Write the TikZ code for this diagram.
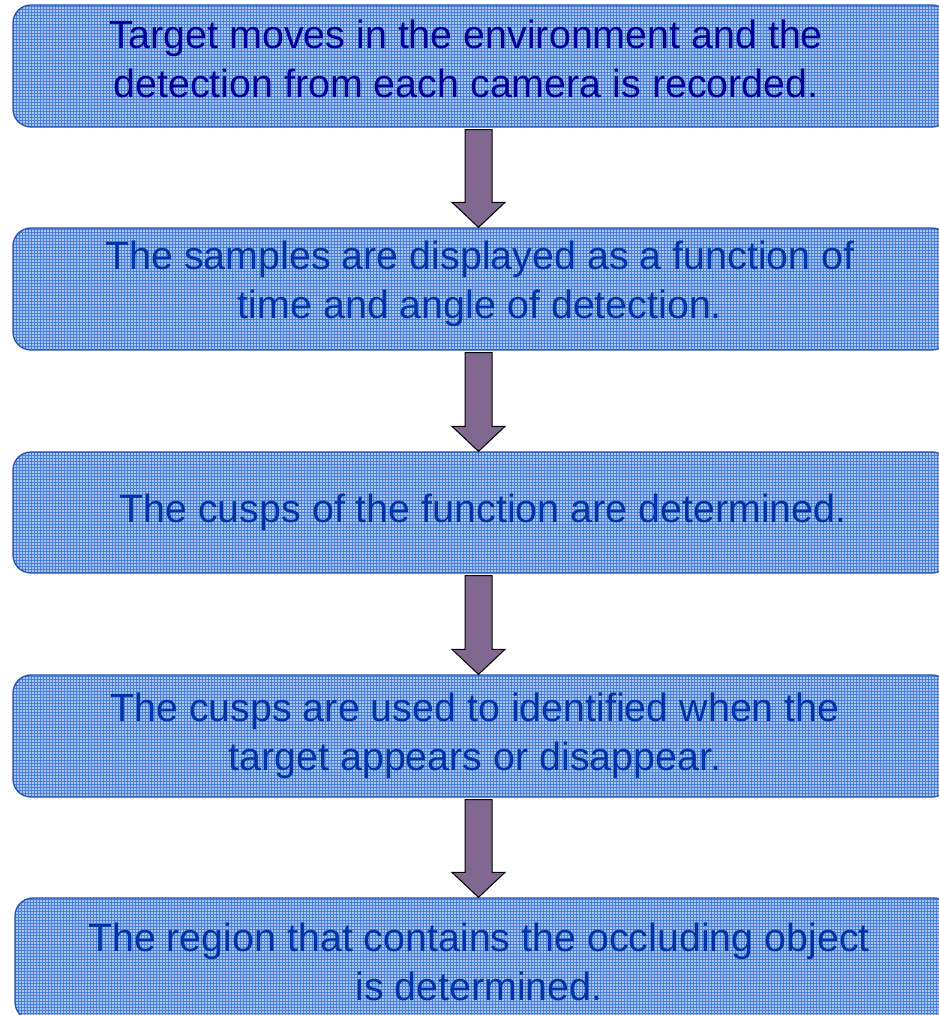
\documentclass[tikz,border=0pt]{standalone}
\usepackage{fontspec}
\setmainfont{Liberation Sans}
\usetikzlibrary{calc}
\definecolor{boxfill}{HTML}{A9C5EE}
\definecolor{gridcol}{HTML}{4A80D8}
\definecolor{boxline}{HTML}{2352B0}
\definecolor{navytext}{HTML}{000096}
\definecolor{bluetext}{HTML}{0034A6}
\definecolor{arrowfill}{HTML}{806890}
\tikzset{
  flowbox/.style={draw=boxline, line width=1.3pt, fill=boxfill, rounded corners=18pt,
    minimum width=937pt, inner sep=0pt,
    path picture={\draw[gridcol, line width=0.8pt] (path picture bounding box.south west) grid[step=3pt] (path picture bounding box.north east);}},
  flowtext/.style={anchor=base, align=center, inner sep=0pt, font=\fontsize{39.4}{48.5}\selectfont},
  blockarrow/.style={draw=black, line width=1pt, fill=arrowfill, line join=miter}
}
\newcommand\flowarrow[2]{%
  \draw[blockarrow] ($(#1)+(-13.5,0)$) -- ($(#1)+(13.5,0)$) -- ($(#2)+(13.5,-25)$) -- ($(#2)+(26.5,-25)$) -- (#2) -- ($(#2)+(-26.5,-25)$) -- ($(#2)+(-13.5,-25)$) -- cycle;}
\begin{document}
\begin{tikzpicture}[x=1pt,y=-1pt]
\useasboundingbox (0,0) rectangle (938,1015);
\node[flowbox, minimum height=122pt] (b1) at (481.5,66) {};
\node[flowbox, minimum height=122pt] (b2) at (481.5,289) {};
\node[flowbox, minimum height=121pt] (b3) at (481.5,512.5) {};
\node[flowbox, minimum height=122pt] (b4) at (481.5,736) {};
\node[flowbox, minimum height=122pt] (b5) at (483.5,959) {};
\node[flowtext, text=navytext] (t1) at (466,97) {Target moves in the environment and the\\detection from each camera is recorded.};
\node[flowtext, text=bluetext] (t2) at (480,318) {The samples are displayed as a function of\\time and angle of detection.};
\node[flowtext, text=bluetext] (t3) at (483,522) {The cusps of the function are determined.};
\node[flowtext, text=bluetext] (t4) at (475,770) {The cusps are used to identified when the\\target appears or disappear.};
\node[flowtext, text=bluetext] (t5) at (479,1000) {The region that contains the occluding object\\is determined.};
\coordinate (s1) at ($(b1.south)+(-3,2)$);
\coordinate (e1) at ($(b2.north)+(-3,0)$);
\coordinate (s2) at ($(b2.south)+(-3,2)$);
\coordinate (e2) at ($(b3.north)+(-3,0)$);
\coordinate (s3) at ($(b3.south)+(-3,2)$);
\coordinate (e3) at ($(b4.north)+(-3,0)$);
\coordinate (s4) at ($(b4.south)+(-3,2)$);
\coordinate (e4) at ($(b5.north)+(-5,0)$);
\flowarrow{s1}{e1}
\flowarrow{s2}{e2}
\flowarrow{s3}{e3}
\flowarrow{s4}{e4}
\end{tikzpicture}
\end{document}
